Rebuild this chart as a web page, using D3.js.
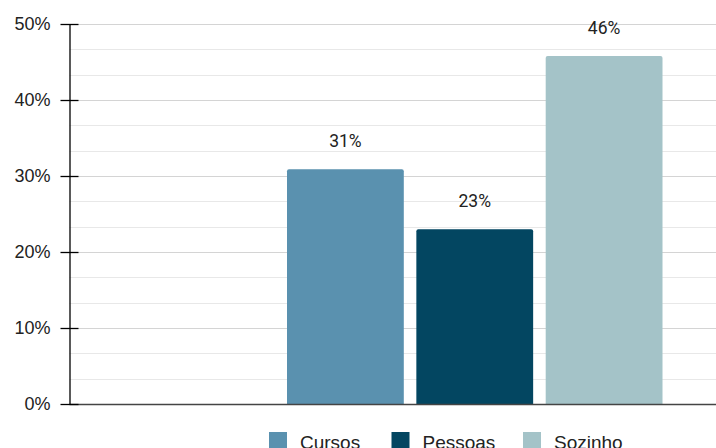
<!DOCTYPE html>
<html><head><meta charset="utf-8">
<script src="https://cdn.jsdelivr.net/npm/d3@7"></script>
<style>body{margin:0;background:#fff}svg{display:block}</style>
</head><body><svg id="c" width="716" height="448"></svg>
<script>
const series = ["Cursos", "Pessoas", "Sozinho"];
const values = [30.9, 23.0, 45.8];
const labels = ["31%", "23%", "46%"];
const colors = ["#5a91af", "#034661", "#a4c3c8"];
const yTicks = [0, 10, 20, 30, 40, 50];

const svg = d3.select("#c");
const y = d3.scaleLinear().domain([0, 50]).range([404, 24]);
const x = d3.scaleBand().domain(series).range([287, 662.5]).paddingInner(0.097);
const axisX = 69.5, rightX = 716;

// minor gridlines
const minor = d3.range(0, 50, 10 / 3).filter((v, i) => i % 3 !== 0);
svg.append("g").selectAll("line").data(minor).join("line")
  .attr("x1", axisX).attr("x2", rightX)
  .attr("y1", d => Math.round(y(d)) + 0.5).attr("y2", d => Math.round(y(d)) + 0.5)
  .attr("stroke", "#e8e8e8").attr("stroke-width", 1);
// major gridlines
svg.append("g").selectAll("line").data(yTicks.filter(d => d > 0)).join("line")
  .attr("x1", axisX).attr("x2", rightX)
  .attr("y1", d => Math.round(y(d)) + 0.5).attr("y2", d => Math.round(y(d)) + 0.5)
  .attr("stroke", "#d4d4d4").attr("stroke-width", 1);

// bars
svg.append("g").selectAll("path").data(series).join("path")
  .attr("d", (s, i) => {
    const x0 = x(s), w = x.bandwidth(), y0 = y(values[i]), y1 = y(0), r = 2;
    return `M${x0},${y1}V${y0 + r}Q${x0},${y0} ${x0 + r},${y0}H${x0 + w - r}Q${x0 + w},${y0} ${x0 + w},${y0 + r}V${y1}Z`;
  })
  .attr("fill", (s, i) => colors[i]);

// value labels
svg.append("g").selectAll("text").data(series).join("text")
  .attr("x", s => x(s) + x.bandwidth() / 2)
  .attr("y", (s, i) => y(values[i]) - 22)
  .attr("text-anchor", "middle")
  .attr("font-family", "Roboto, sans-serif").attr("font-size", 17.5).attr("fill", "#222")
  .text((s, i) => labels[i]);

// baseline
svg.append("line").attr("x1", axisX).attr("x2", rightX)
  .attr("y1", y(0) + 0.5).attr("y2", y(0) + 0.5)
  .attr("stroke", "#444").attr("stroke-width", 1.5);

// y axis
const yAxis = d3.axisLeft(y).tickValues(yTicks).tickFormat(d => d + "%").tickSize(0).tickPadding(19);
const ga = svg.append("g").attr("transform", `translate(${axisX},0)`).call(yAxis);
ga.select(".domain").attr("stroke", "#000").attr("stroke-width", 1.3);
ga.selectAll(".tick text").attr("font-family", "Liberation Sans, Arial, sans-serif").attr("font-size", 18).attr("fill", "#222");
ga.selectAll(".tick").append("line").attr("x1", -9).attr("x2", 9).attr("stroke", "#000").attr("stroke-width", 1.3);

// legend
const legX = [269, 391.5, 523];
const lg = svg.append("g").selectAll("g").data(series).join("g")
  .attr("transform", (s, i) => `translate(${legX[i]},432)`);
lg.append("rect").attr("width", 18).attr("height", 18).attr("fill", (s, i) => colors[i]);
lg.append("text").attr("x", 31).attr("y", 16.5)
  .attr("font-family", "Liberation Sans, Arial, sans-serif").attr("font-size", 19).attr("fill", "#222")
  .text(s => s);
</script></body></html>
